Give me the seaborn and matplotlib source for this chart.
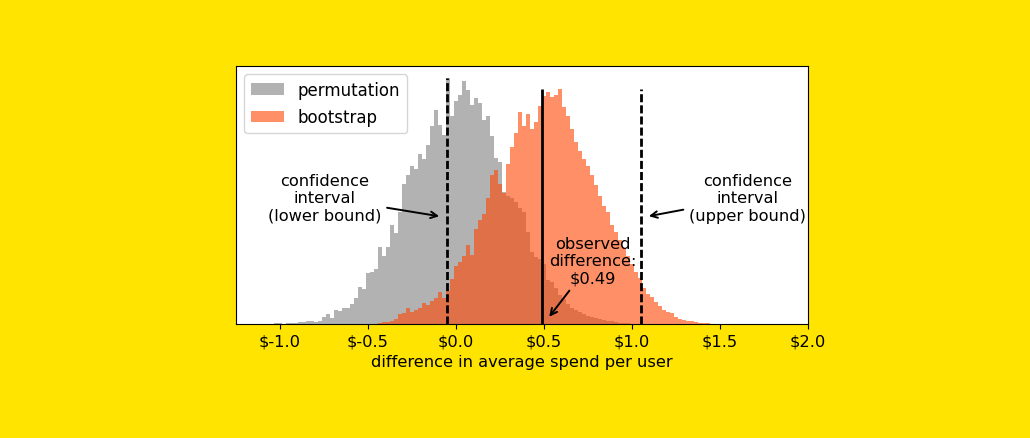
import numpy as np
import pandas as pd
import matplotlib as mpl
mpl.use('agg')
import matplotlib.pyplot as plt
import seaborn as sns

# histogram counts (same bin width for both)
bin_width = 0.0227
perm_start = -1.032
boot_start = -0.442

perm_counts = [1, 1, 0, 1, 1, 1, 2, 2, 3, 3, 2,
               3, 7, 10, 6, 14, 13, 16, 16, 20, 26,
               37, 35, 51, 52, 55, 77, 68, 77, 99, 91,
               112, 140, 149, 158, 155, 170, 165, 178, 197, 213,
               198, 188, 245, 207, 222, 228, 242, 233, 218, 225,
               220, 203, 207, 187, 166, 162, 132, 128, 126, 122,
               116, 112, 92, 72, 67, 65, 60, 44, 42, 36,
               29, 25, 20, 16, 14, 12, 10, 8, 7, 6,
               5, 4, 3, 3, 2, 1, 1, 1]

boot_counts = [1, 2, 2, 3, 5, 10, 11, 16, 12, 14,
               16, 21, 19, 23, 26, 32, 26, 33, 45, 58,
               62, 68, 79, 69, 95, 104, 110, 126, 149, 154,
               140, 131, 160, 176, 190, 211, 197, 209, 194, 201,
               217, 227, 231, 226, 228, 234, 216, 207, 194, 181,
               172, 165, 158, 149, 139, 128, 118, 112, 99, 92,
               84, 76, 68, 60, 52, 46, 36, 30, 27, 22,
               18, 14, 12, 11, 7, 5, 4, 3, 3, 2,
               1, 1, 1]

ci_lower = -0.05
ci_upper = 1.05
observed = 0.49

xticks = [-1.0, -0.5, 0.0, 0.5, 1.0, 1.5, 2.0]
xticklabels = ['$-1.0', '$-0.5', '$0.0', '$0.5', '$1.0', '$1.5', '$2.0']

FS = 11.7
plt.rcParams['font.family'] = ['DejaVu Sans']
plt.rcParams['font.size'] = FS

perm_edges = perm_start + bin_width * np.arange(len(perm_counts) + 1)
boot_edges = boot_start + bin_width * np.arange(len(boot_counts) + 1)
perm_df = pd.DataFrame({'diff': perm_edges[:-1] + bin_width / 2, 'count': perm_counts})
boot_df = pd.DataFrame({'diff': boot_edges[:-1] + bin_width / 2, 'count': boot_counts})

fig = plt.figure(figsize=(10.30, 4.39), dpi=100, facecolor='#ffe400')
ax = fig.add_axes([236 / 1030, 1 - 325 / 439, 572 / 1030, 258 / 439])

sns.histplot(data=perm_df, x='diff', weights='count', bins=list(perm_edges),
             color='gray', alpha=0.6, linewidth=0, label='permutation', ax=ax)
sns.histplot(data=boot_df, x='diff', weights='count', bins=list(boot_edges),
             color='orangered', alpha=0.6, linewidth=0, label='bootstrap', ax=ax)

# confidence interval and observed difference
ax.vlines(ci_lower, 0, max(perm_counts), colors='black', linewidth=2, linestyles=(0, (2.9, 1.1)))
ax.vlines(ci_upper, 0, max(boot_counts), colors='black', linewidth=2, linestyles=(0, (2.9, 1.1)))
ax.vlines(observed, 0, max(boot_counts), colors='black', linewidth=2)

arrow = dict(arrowstyle='->', color='black', lw=1.4)
ax.annotate('confidence\ninterval\n(lower bound)', xy=(ci_lower - 0.03, 107), xytext=(-0.745, 126),
            ha='center', va='center', fontsize=FS, arrowprops=arrow)
ax.annotate('confidence\ninterval\n(upper bound)', xy=(ci_upper + 0.03, 107), xytext=(1.655, 126),
            ha='center', va='center', fontsize=FS, arrowprops=arrow)
ax.annotate('observed\ndifference:\n$0.49', xy=(observed + 0.03, 5), xytext=(0.775, 63),
            ha='center', va='center', fontsize=FS, arrowprops=arrow)

ax.set_xlim(-1.25, 2.0)
ax.set_xticks(xticks)
ax.set_xticklabels(xticklabels, fontsize=FS)
ax.set_yticks([])
ax.set_ylabel('')
ax.set_xlabel('difference in average spend per user', fontsize=FS)

leg = ax.legend(loc='upper left', fontsize=12, labelspacing=0.55)

plt.savefig('out.png', dpi=100, facecolor=fig.get_facecolor())
